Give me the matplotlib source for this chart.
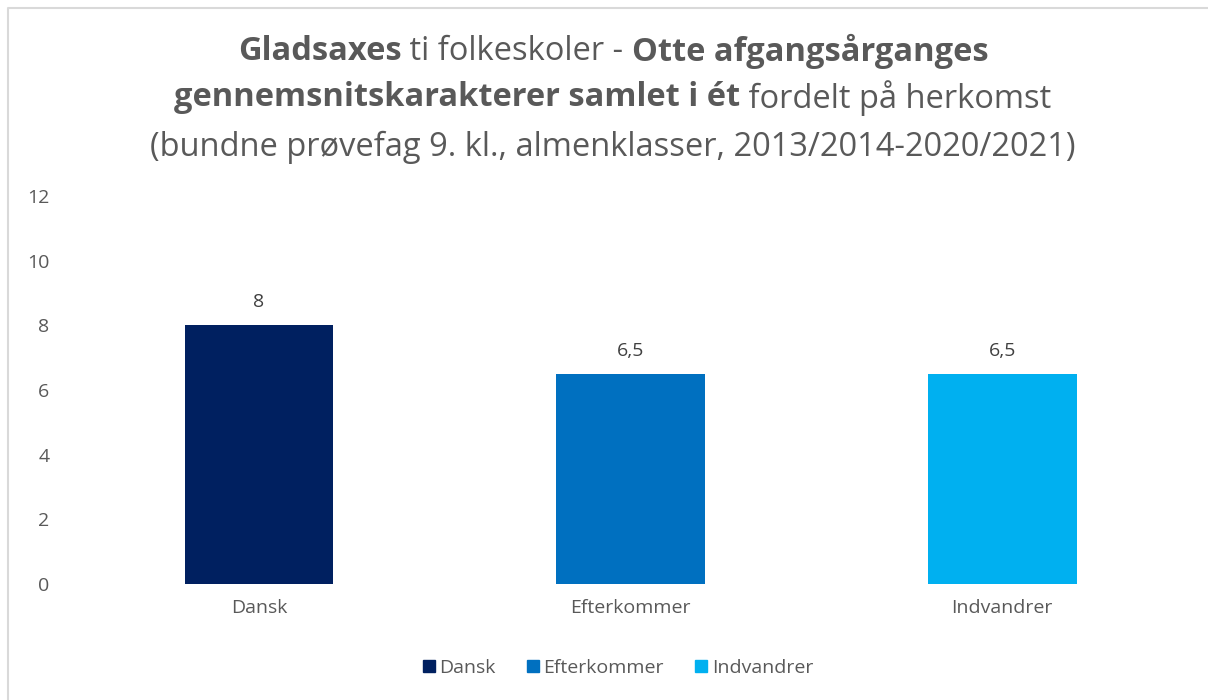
import matplotlib.pyplot as plt
from matplotlib.patches import Patch
from matplotlib.lines import Line2D

# Data
categories = ['Dansk', 'Efterkommer', 'Indvandrer']
values = [8, 6.5, 6.5]
value_labels = ['8', '6,5', '6,5']
colors = ['#002060', '#0070C0', '#00B0F0']

title_lines = [
    [('Gladsaxes', 'bold'), (' ti folkeskoler - ', 'normal'), ('Otte afgangsårganges', 'bold')],
    [('gennemsnitskarakterer samlet i ét', 'bold'), (' fordelt på herkomst', 'normal')],
    [('(bundne prøvefag 9. kl., almenklasser, 2013/2014-2020/2021)', 'normal')],
]

plt.rcParams['font.family'] = ['Open Sans', 'DejaVu Sans']
txt = '#595959'
fs = 14

fig = plt.figure(figsize=(12.08, 7.0), dpi=100)
ax = fig.add_axes([73 / 1208, 1 - 584 / 700, (1188 - 73) / 1208, (584 - 196) / 700])

x = list(range(len(categories)))
bars = ax.bar(x, values, width=0.4, color=colors)
for b, lab in zip(bars, value_labels):
    ax.annotate(lab, (b.get_x() + b.get_width() / 2, b.get_height()),
                xytext=(0, 10), textcoords='offset points',
                ha='center', va='bottom', fontsize=fs, color='#404040')

ax.set_xlim(-0.5, 2.5)
ax.set_ylim(0, 12)
ax.set_yticks(range(0, 13, 2))
ax.set_xticks(x)
ax.set_xticklabels(categories)
ax.tick_params(axis='both', length=0, labelsize=fs, labelcolor=txt)
ax.tick_params(axis='x', pad=11)
ax.tick_params(axis='y', pad=17)
for s in ax.spines.values():
    s.set_visible(False)

# legend
handles = [Patch(color=c, label=l) for c, l in zip(colors, categories)]
fig.legend(handles=handles, loc='center', bbox_to_anchor=(618 / 1208, 1 - 668 / 700),
           ncol=3, frameon=False, fontsize=fs, handlelength=0.6, handleheight=0.6,
           handletextpad=0.25, columnspacing=1.6, labelcolor=txt)

# chart border: only left and top edges are inside the crop
bx, by = 8 / 1208, 1 - 8 / 700
fig.add_artist(Line2D([bx, bx, 1.0], [0.0, by, by], transform=fig.transFigure,
                      color='#D9D9D9', lw=1.5))

# title with mixed bold / normal runs
fig.canvas.draw()
r = fig.canvas.get_renderer()
cx = 613 / 1208
ys = [51, 98, 147]
for parts, yp in zip(title_lines, ys):
    texts = [fig.text(0, 1 - yp / 700, s, fontsize=23.5, fontweight=w, color=txt,
                      va='center', ha='left') for s, w in parts]
    widths = [t.get_window_extent(r).width / fig.bbox.width for t in texts]
    left = cx - sum(widths) / 2
    for t, w in zip(texts, widths):
        t.set_x(left)
        left += w

fig.savefig('out.png', dpi=100)
